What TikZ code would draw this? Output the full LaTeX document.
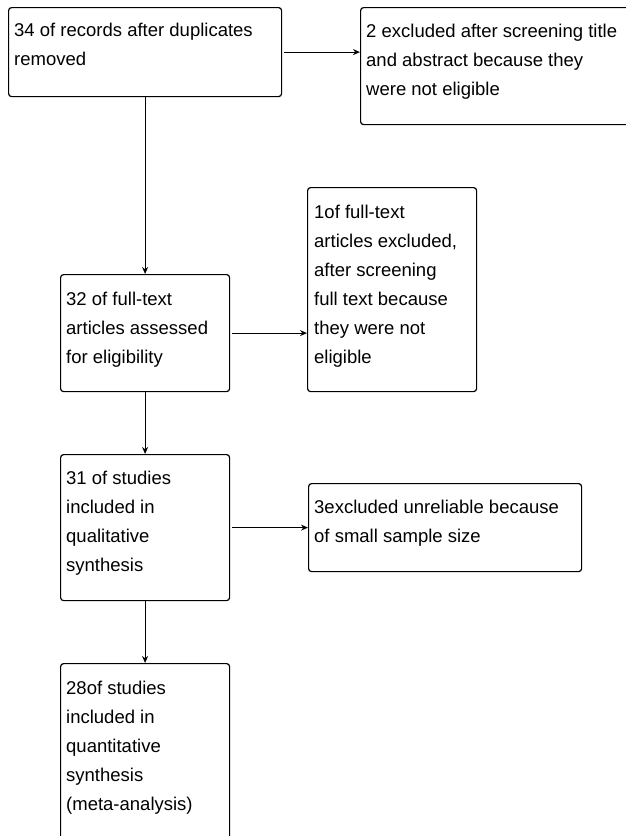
\documentclass[tikz,border=0pt]{standalone}
\usepackage{fontspec}
\setmainfont{Liberation Sans}
\usetikzlibrary{arrows.meta}
\tikzset{
  flowbox/.style={draw=black, line width=1.2pt, rounded corners=3pt, rectangle, inner sep=0pt, anchor=north west},
  flowtxt/.style={anchor=north west, inner sep=0pt, align=left, font=\fontsize{18.5}{29}\selectfont, text=black},
  flowarr/.style={draw=black, line width=1.2pt, -{Stealth[length=7pt,width=6pt]}},
  sidearr/.style={flowarr, shorten <=2pt}
}
\newcommand{\fst}{\rule{0pt}{15pt}}
\begin{document}
\begin{tikzpicture}[x=1pt,y=-1pt]
\useasboundingbox (0,0) rectangle (626,836);
\clip (0,0) rectangle (626,836);
% boxes
\node[flowbox, minimum width=273pt, minimum height=89pt] (A) at (8,7) {};
\node[flowbox, minimum width=280pt, minimum height=117pt] (B) at (360,7) {};
\node[flowbox, minimum width=169pt, minimum height=117pt] (C) at (60,274) {};
\node[flowbox, minimum width=169pt, minimum height=204pt] (D) at (307,187) {};
\node[flowbox, minimum width=169pt, minimum height=146pt] (E) at (60,454) {};
\node[flowbox, minimum width=273pt, minimum height=88pt] (G) at (308,483) {};
\node[flowbox, minimum width=169pt, minimum height=200pt] (F) at (60,663) {};
% texts
\node[flowtxt] (tA) at (14,21) {\fst 34 of records after duplicates\\removed};
\node[flowtxt] (tB) at (366,22) {\fst 2 excluded after screening title\\and abstract because they\\were not eligible};
\node[flowtxt] (tC) at (66,290) {\fst 32 of full-text\\articles assessed\\for eligibility};
\node[flowtxt] (tD) at (314,203) {\fst 1of full-text\\articles excluded,\\after screening\\full text because\\they were not\\eligible};
\node[flowtxt] (tE) at (66,469) {\fst 31 of studies\\included in\\qualitative\\synthesis};
\node[flowtxt] (tG) at (314,498) {\fst 3excluded unreliable because\\of small sample size};
\node[flowtxt] (tF) at (66,679) {\fst 28of studies\\included in\\quantitative\\synthesis\\(meta-analysis)};
% connectors
\draw[sidearr] (A.east) -- (A.east -| B.west);
\draw[flowarr] (A.south) -- (C.north);
\draw[sidearr] (C.east) -- (C.east -| D.west);
\draw[flowarr] (C.south) -- (E.north);
\draw[sidearr] (E.east) -- (E.east -| G.west);
\draw[flowarr] (E.south) -- (F.north);
\end{tikzpicture}
\end{document}
